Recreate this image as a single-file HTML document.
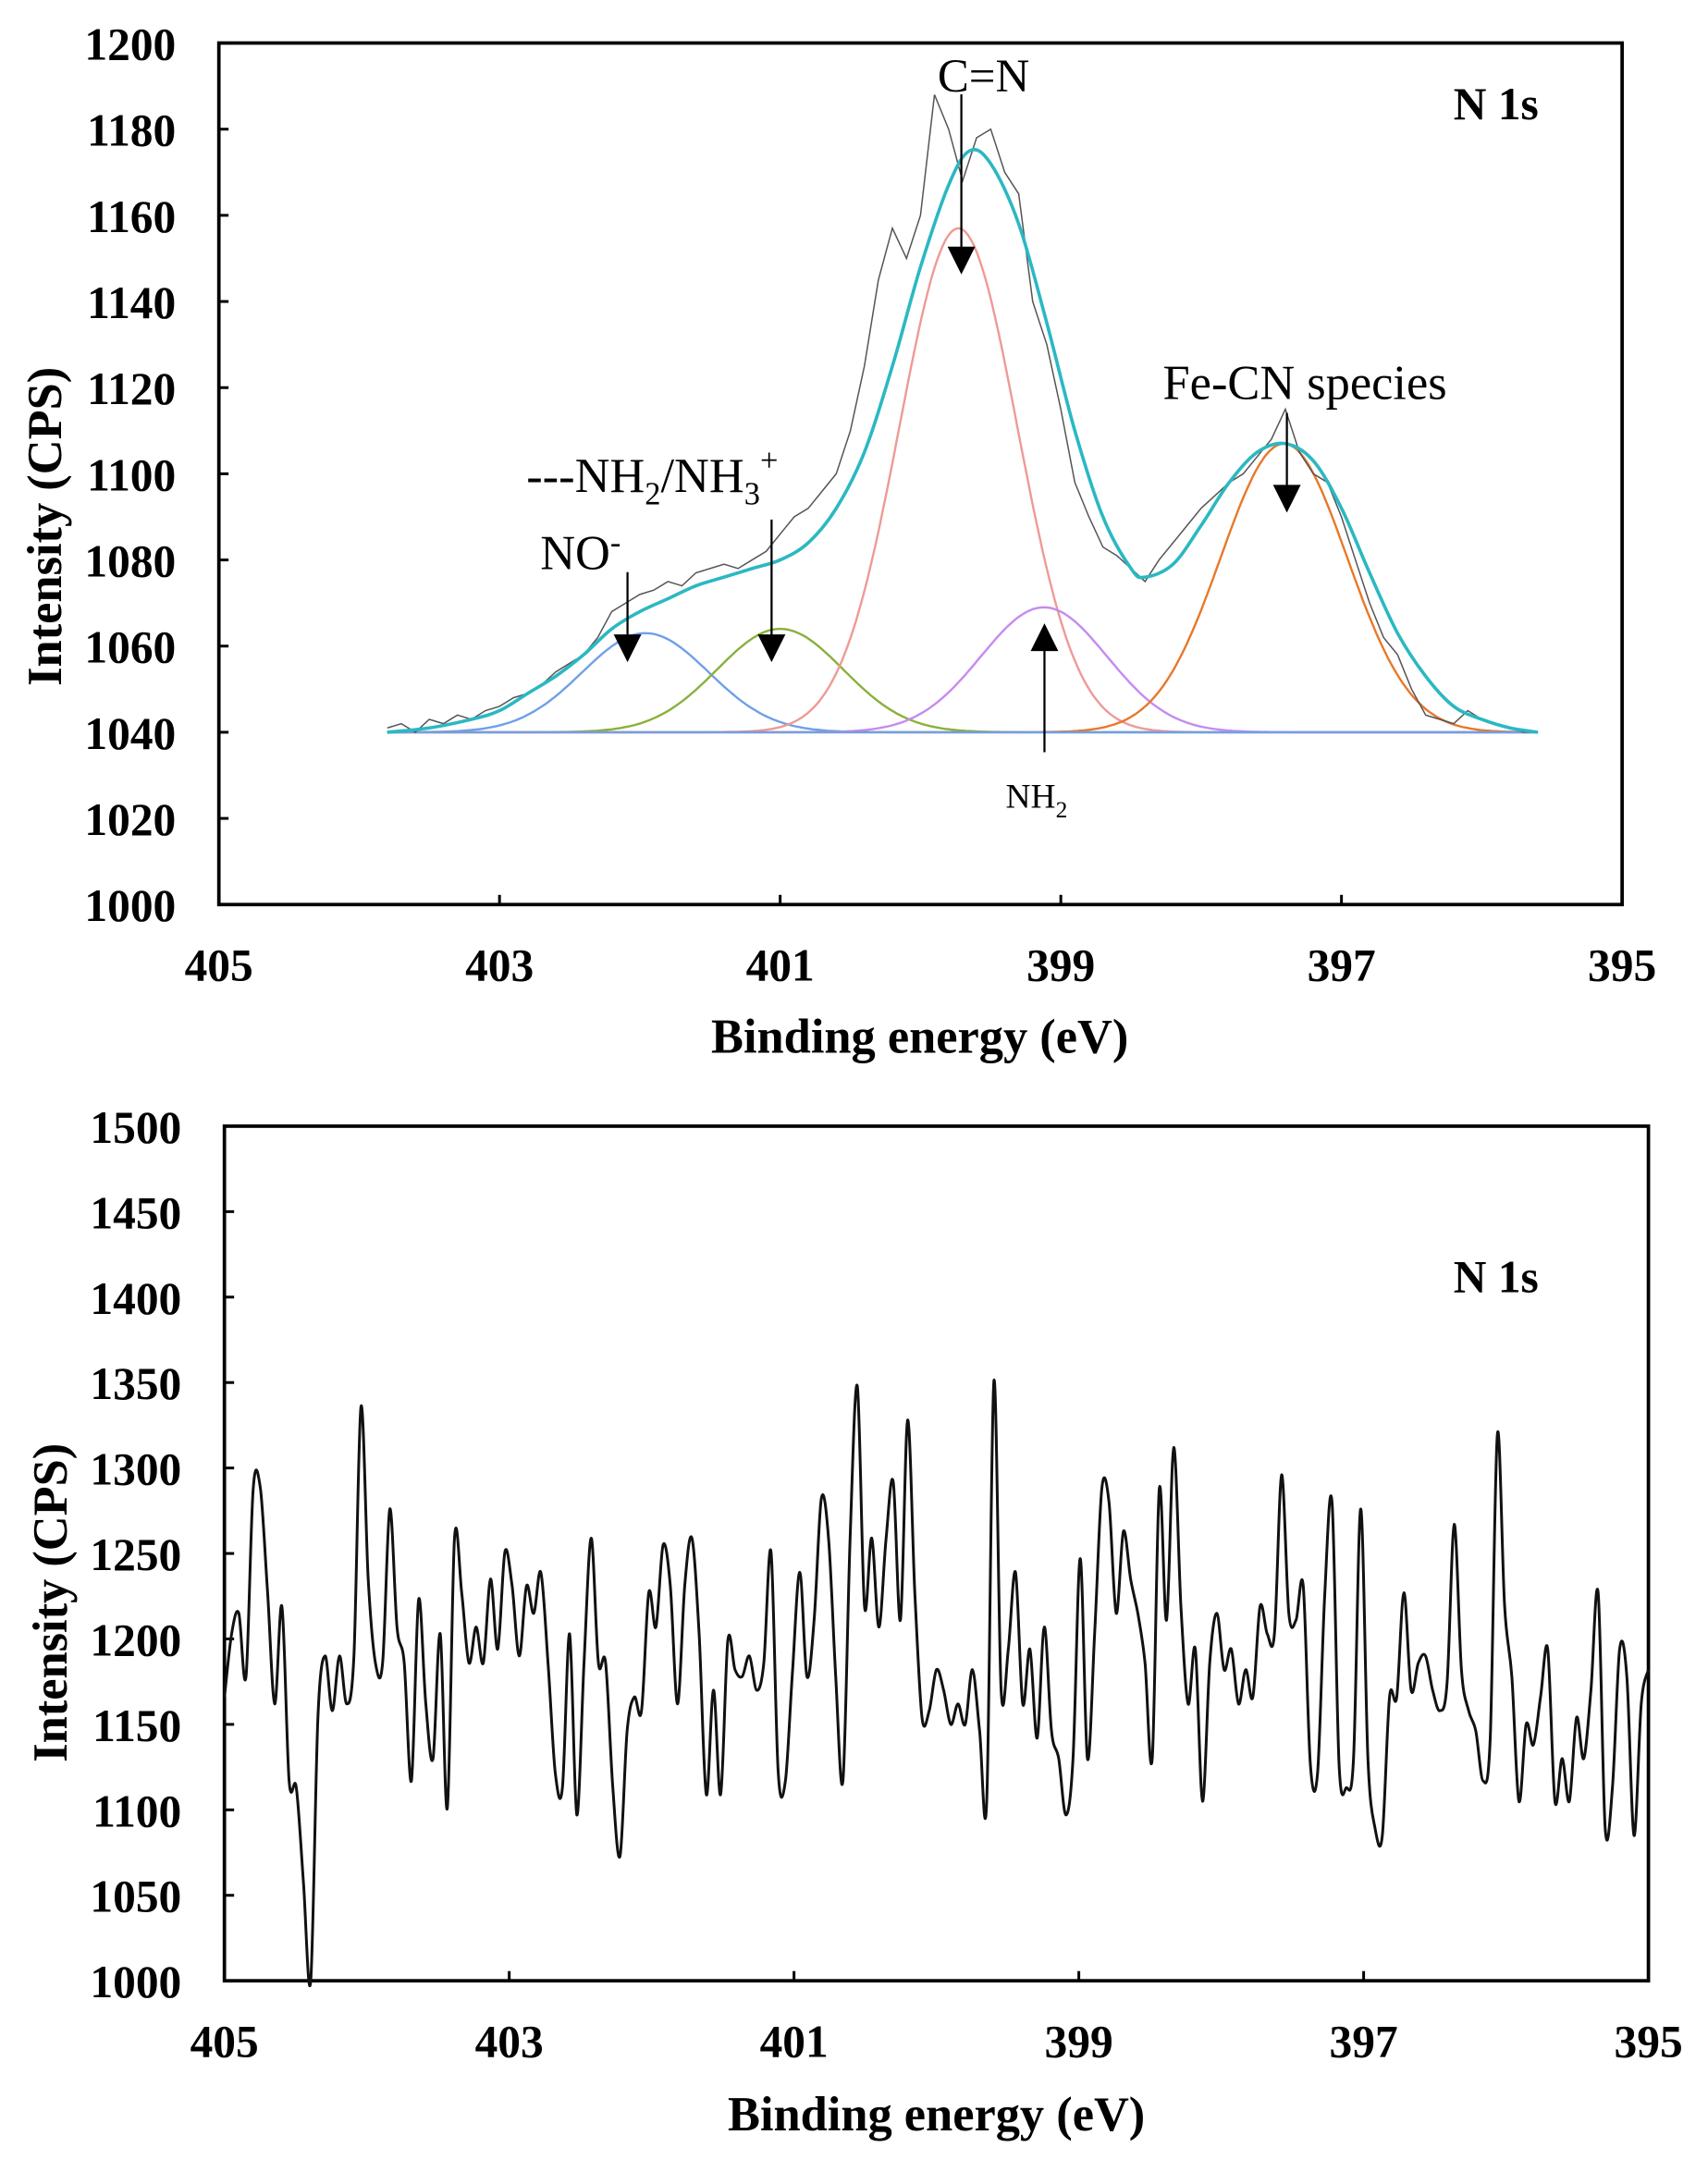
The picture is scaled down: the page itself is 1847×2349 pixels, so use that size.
<!DOCTYPE html>
<html><head><meta charset="utf-8"><style>
html,body{margin:0;padding:0;background:#fff;}
svg{display:block;font-family:"Liberation Serif",serif;}
</style></head><body>
<svg id="fig" width="1847" height="2349" viewBox="0 0 1233 1568" xmlns="http://www.w3.org/2000/svg">
<g id="top"></g>
<g id="bot"></g>
</svg>
<script>
// ---- top chart data ----
const topXTicks = [405, 403, 401, 399, 397, 395];
const topYTicks = [1000, 1020, 1040, 1060, 1080, 1100, 1120, 1140, 1160, 1180, 1200];
const topRawStart = 403.8;
const topRawStep = 0.1;
const topRaw = [1041,1042,1040,1043,1042,1044,1043,1045,1046,
1048,1049,1051,1054,1056,1058,1062,1068,1070,1072,
1073,1075,1074,1077,1078,1079,1078,1080,1082,1086,
1090,1092,1096,1100,1110,1125,1145,1157,1150,1160,
1188,1180,1168,1178,1180,1170,1165,1140,1130,1115,
1098,1090,1083,1081,1078,1075,1080,1084,1088,1092,
1095,1098,1100,1104,1108,1115,1105,1100,1098,1090,
1080,1070,1062,1058,1050,1044,1043,1042,1045,1043,
1042,1041,1040,1040];
const envEnergies = [403.8,403.5,403.2,403.0,402.8,402.6,402.4,402.2,402.0,401.8,401.6,401.4,401.2,401.0,400.8,400.6,400.4,400.2,400.0,399.8,399.65,399.5,399.3,399.1,398.9,398.7,398.5,398.4,398.2,398.0,397.8,397.6,397.4,397.2,397.0,396.8,396.6,396.4,396.2,396.0,395.8,395.6];
const envValues = [1040,1041,1043,1045,1049,1053,1058,1064,1068,1071,1074,1076,1078,1080,1084,1092,1105,1125,1148,1167,1175,1172,1158,1135,1110,1090,1078,1076,1079,1088,1098,1105,1107,1103,1092,1077,1063,1053,1046,1043,1041,1040];
const peakNames = ['NO', 'NH2-NH3', 'C=N', 'NH2', 'Fe-CN'];
const peakCenters = [401.96, 401.0, 399.73, 399.12, 397.41];
const peakHeights = [23, 24, 117, 29, 67];
const peakSigmas = [0.45, 0.45, 0.42, 0.45, 0.45];
const peakColors = ['#6fa0e8', '#8ab03a', '#ee9a96', '#c58bf0', '#e8782a'];
const baseline = 1040;
const fitRange = [403.8, 395.6];
// ---- bottom chart data ----
const botXTicks = [405, 403, 401, 399, 397, 395];
const botYTicks = [1000, 1050, 1100, 1150, 1200, 1250, 1300, 1350, 1400, 1450, 1500];
const botRange = [405, 395];
const botCounts = [1166,1203,1215,1178,1288,1288,1227,1162,1219,1117,1113,1057,1000,1154,1190,1158,1190,1162,1190,1336,1235,1186,1186,1276,1207,1186,1117,1223,1162,1130,1203,1101,1259,1227,1186,1207,1186,1235,1194,1251,1231,1190,1231,1215,1239,1186,1122,1113,1203,1097,1186,1259,1186,1186,1113,1073,1146,1166,1158,1227,1207,1255,1231,1162,1231,1259,1203,1109,1170,1109,1199,1182,1178,1190,1170,1186,1251,1122,1117,1182,1239,1178,1211,1282,1259,1178,1117,1259,1348,1219,1259,1207,1259,1292,1211,1328,1227,1154,1158,1182,1170,1150,1162,1150,1182,1146,1105,1351,1170,1194,1239,1162,1194,1142,1207,1146,1130,1097,1130,1247,1130,1203,1288,1280,1215,1263,1235,1215,1186,1130,1288,1211,1312,1219,1162,1194,1105,1186,1215,1182,1194,1162,1182,1166,1219,1203,1203,1296,1215,1211,1231,1126,1122,1227,1280,1126,1113,1130,1276,1130,1089,1085,1166,1166,1227,1170,1186,1190,1170,1158,1174,1267,1182,1158,1146,1117,1142,1320,1219,1178,1105,1150,1138,1166,1194,1105,1130,1105,1154,1130,1170,1227,1089,1113,1194,1178,1085,1162,1182];

const NS='http://www.w3.org/2000/svg';
function mk(parent, tag, attrs){const e=document.createElementNS(NS,tag);for(const k in attrs)e.setAttribute(k,attrs[k]);parent.appendChild(e);return e;}
function txt(parent, x, y, s, size, bold, anchor){const t=mk(parent,'text',{x:x,y:y,'font-size':size,'text-anchor':anchor||'middle','font-weight':bold?'bold':'normal',fill:'#000'});t.textContent=s;return t;}
function smooth(pts){let d='M'+pts[0][0].toFixed(1)+','+pts[0][1].toFixed(1);
  for(let i=0;i<pts.length-1;i++){const p0=pts[Math.max(0,i-1)],p1=pts[i],p2=pts[i+1],p3=pts[Math.min(pts.length-1,i+2)];
    const c1=[p1[0]+(p2[0]-p0[0])/6,p1[1]+(p2[1]-p0[1])/6],c2=[p2[0]-(p3[0]-p1[0])/6,p2[1]-(p3[1]-p1[1])/6];
    d+='C'+c1[0].toFixed(1)+','+c1[1].toFixed(1)+' '+c2[0].toFixed(1)+','+c2[1].toFixed(1)+' '+p2[0].toFixed(1)+','+p2[1].toFixed(1);}
  return d;}

function axes(g, L, R, T, B, x0, x1, y0, y1, xt, yt){
  const sx=v=>L+(x0-v)/(x0-x1)*(R-L);
  const sy=v=>B-(v-y0)/(y1-y0)*(B-T);
  const fr=mk(g,'rect',{x:L,y:T,width:R-L,height:B-T,fill:'none',stroke:'#000','stroke-width':2.5});
  
  
  xt.forEach(v=>{mk(g,'line',{x1:sx(v),x2:sx(v),y1:B,y2:B-7,stroke:'#000','stroke-width':2});
    const t=txt(g,sx(v),B+55,String(v),33,true);
    
    });
  yt.forEach(v=>{mk(g,'line',{x1:L,x2:L+7,y1:sy(v),y2:sy(v),stroke:'#000','stroke-width':2});
    const t=txt(g,L-31,sy(v)+12,String(v),33,true,'end');
    
    });
  return {sx,sy};
}
function arrowDown(g,x,y1,y2,name){const a=mk(g,'g',{});
  mk(a,'line',{x1:x,x2:x,y1:y1,y2:y2-14,stroke:'#000','stroke-width':1.5});
  mk(a,'polygon',{points:`${x-10},${y2-20} ${x+10},${y2-20} ${x},${y2}`,fill:'#000'});}
function arrowUp(g,x,y1,y2,name){const a=mk(g,'g',{});
  mk(a,'line',{x1:x,x2:x,y1:y1,y2:y2+14,stroke:'#000','stroke-width':1.5});
  mk(a,'polygon',{points:`${x-10},${y2+20} ${x+10},${y2+20} ${x},${y2}`,fill:'#000'});}

// ---- top ----
(function(){
  const g=document.getElementById('top');
  const {sx,sy}=axes(g,158,1171,31,653,405,395,1000,1200,topXTicks,topYTicks);
  const gauss=(i,e)=>peakHeights[i]*Math.exp(-Math.pow(e-peakCenters[i],2)/(2*peakSigmas[i]*peakSigmas[i]));
  const n=400;
  peakNames.forEach((nm,i)=>{let d='';for(let k=0;k<=n;k++){const e=fitRange[0]+(fitRange[1]-fitRange[0])*k/n;d+=(k?'L':'M')+sx(e).toFixed(1)+','+sy(baseline+gauss(i,e)).toFixed(1);}
    const p=mk(g,'path',{d:d,fill:'none',stroke:peakColors[i],'stroke-width':1.6});
    
    });
  const bl=mk(g,'line',{x1:sx(fitRange[0]),x2:sx(fitRange[1]),y1:sy(baseline),y2:sy(baseline),stroke:'#6fa0e8','stroke-width':1.6});
  
  
  let d='';topRaw.forEach((v,k)=>{const e=topRawStart-k*topRawStep;d+=(k?'L':'M')+sx(e).toFixed(1)+','+sy(v).toFixed(1);});
  const raw=mk(g,'path',{d:d,fill:'none',stroke:'#555','stroke-width':1});
  
  
  const pts=envEnergies.map((e,k)=>[sx(e),sy(envValues[k])]);
  const env=mk(g,'path',{d:smooth(pts),fill:'none',stroke:'#2bb8c2','stroke-width':2.4});
  
  
  let t=txt(g,1080,86,'N 1s',33,true);
  t=txt(g,710,66,'C=N',34,false);
  arrowDown(g,694,68,198,'cn-arrow');
  t=txt(g,942,288,'Fe-CN species',35,false);
  arrowDown(g,929,298,370,'fecn-arrow');
  t=mk(g,'text',{x:380,y:355,'font-size':35,fill:'#000'});t.innerHTML='---NH<tspan font-size="23" dy="9">2</tspan><tspan dy="-9">/NH</tspan><tspan font-size="23" dy="9">3</tspan><tspan font-size="23" dy="-24">+</tspan>';
  
  arrowDown(g,557,375,478,'nh2-nh3-arrow');
  t=mk(g,'text',{x:390,y:411,'font-size':35,fill:'#000'});t.innerHTML='NO<tspan font-size="23" dy="-12">-</tspan>';
  
  arrowDown(g,453,413,478,'no-arrow');
  t=mk(g,'text',{x:726,y:583,'font-size':25,fill:'#000'});t.innerHTML='NH<tspan font-size="17" dy="7">2</tspan>';
  
  arrowUp(g,754,543,450,'nh2-arrow');
  t=txt(g,664,760,'Binding energy (eV)',35,true);
  const yt=mk(g,'text',{x:0,y:0,'font-size':35,'font-weight':'bold','text-anchor':'middle',transform:'translate(44,380) rotate(-90)'});yt.textContent='Intensity (CPS)';
  
})();
// ---- bottom ----
(function(){
  const g=document.getElementById('bot');
  const {sx,sy}=axes(g,162,1190,813,1430,405,395,1000,1500,botXTicks,botYTicks);
  const step=(botRange[0]-botRange[1])/(botCounts.length-1);
  const pts=botCounts.map((v,k)=>[sx(botRange[0]-k*step),sy(v)]);
  const p=mk(g,'path',{d:smooth(pts),fill:'none',stroke:'#111','stroke-width':2,'stroke-linejoin':'round'});
  
  
  let t=txt(g,1080,933,'N 1s',33,true);
  t=txt(g,676,1538,'Binding energy (eV)',35,true);
  const yt=mk(g,'text',{x:0,y:0,'font-size':35,'font-weight':'bold','text-anchor':'middle',transform:'translate(48,1157) rotate(-90)'});yt.textContent='Intensity (CPS)';
  
})();
</script>
</body></html>
